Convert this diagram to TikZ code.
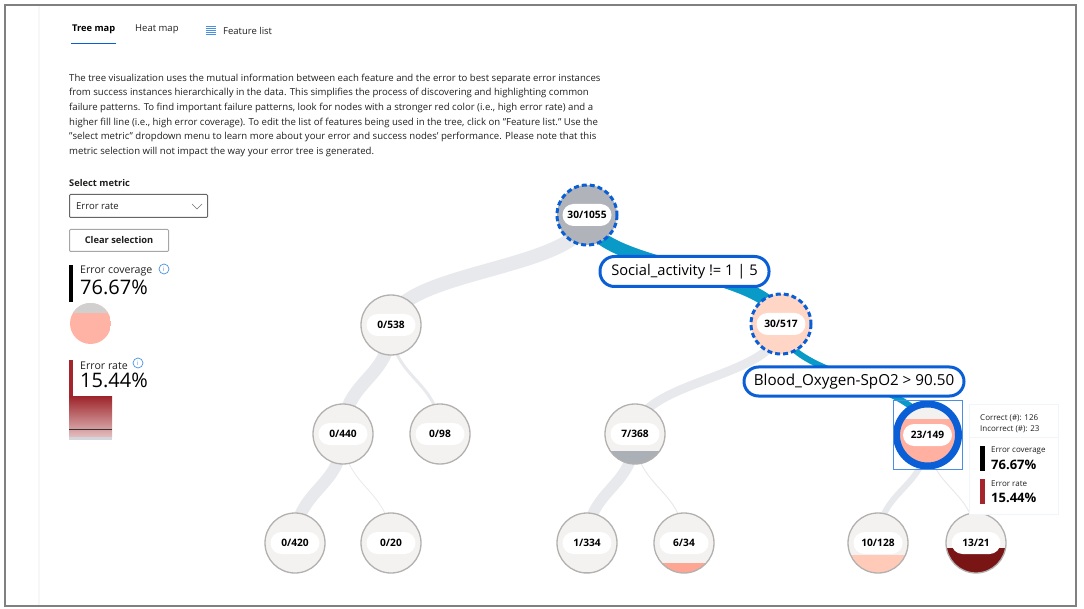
\documentclass[tikz,border=0pt]{standalone}
\usepackage{fontspec}
\setmainfont{Open Sans}
\usetikzlibrary{backgrounds,calc}
\definecolor{selblue}{HTML}{0A5FD6}
\definecolor{linkteal}{HTML}{099AC8}
\definecolor{linkgrey}{HTML}{E8E9ED}
\definecolor{nodebg}{HTML}{F3F2F1}
\definecolor{noderim}{HTML}{B3B1AF}
\definecolor{barred}{HTML}{A4262C}
\definecolor{infoblue}{HTML}{4A90E2}
\definecolor{ink}{HTML}{201F1E}
\definecolor{rootgrey}{HTML}{B0B3B9}
\definecolor{peach}{HTML}{FFD5C6}
\definecolor{fillgrey}{HTML}{ABAFB6}
\definecolor{coral}{HTML}{FFB0A0}
\definecolor{salmon}{HTML}{FFA594}
\definecolor{peachb}{HTML}{FFCBB8}
\definecolor{maroon}{HTML}{7A1515}
\definecolor{tipline}{HTML}{EEF5FB}
\definecolor{pieA}{HTML}{FFB3A5}
\definecolor{pieB}{HTML}{D2D0CE}
\definecolor{rateend}{HTML}{D3D6DC}
\tikzset{
  tnode/.style={circle,minimum size=60pt,inner sep=0pt,draw=noderim,line width=1.3pt,fill=nodebg},
  level/.style 2 args={path picture={\fill[#1] (-40,#2) rectangle (40,40);}},
  pill/.style={rounded corners=11pt,fill=white,minimum width=49pt,minimum height=22pt,inner sep=0pt,font=\fontsize{10.2}{12}\selectfont\bfseries,text=black},
  sel/.style={draw=selblue,line width=3pt,dash pattern=on 5pt off 3pt},
  cond/.style={draw=selblue,line width=3pt,fill=white,rounded corners=14.5pt,inner sep=0pt,font=\fontsize{14.7}{18}\selectfont,text=black},
  greylink/.style={draw=linkgrey},
  teallink/.style={draw=linkteal},
  txt/.style={anchor=west,inner sep=0pt,text=ink,font=\fontsize{9.5}{11}\selectfont},
  semi/.style={txt,font=\fontsize{9.3}{11}\selectfont\bfseries},
  big/.style={anchor=west,inner sep=0pt,text=black,font=\fontsize{20}{22}\selectfont},
  tipbig/.style={anchor=west,inner sep=0pt,text=black,font=\fontsize{13}{14}\selectfont\bfseries},
  tiptxt/.style={anchor=west,inner sep=0pt,text=ink,font=\fontsize{8}{9}\selectfont},
  info/.style={circle,draw=infoblue,line width=.7pt,minimum size=10pt,inner sep=0pt,text=infoblue,font=\fontsize{6}{7}\selectfont},
  uibox/.style={rectangle,inner sep=0pt,fill=white}
}
\newcommand{\linkto}[3]{\draw[#1] (#2.center) .. controls ($(#2.center)+(0,55)$) and ($(#3.center)+(0,-55)$) .. (#3.center);}
\begin{document}
\begin{tikzpicture}[x=1pt,y=-1pt]
\useasboundingbox (0,0) rectangle (1084,609);
\draw[color=black!3,line width=2pt] (39,5) -- (39,606);
\draw[color=black!50,line width=1.4pt] (5,5) rectangle (1076,606);
% tabs
\node[semi,text=black] (tab1) at (72,29.5) {Tree map};
\draw[selblue,line width=1.4pt] (71,43.5) -- (115.5,43.5);
\node[txt] (tab2) at (135,29.5) {Heat map};
\foreach \yy in {26,28,30,32,34} \draw[infoblue,line width=.9pt] (205.5,\yy) -- (216,\yy);
\node[txt] (tab3) at (223,30.5) {Feature list};
% description
\node[anchor=north west,inner sep=0pt,align=left,text=ink,font=\fontsize{9.6}{14.65}\selectfont] (desc) at (69,73.7) {The tree visualization uses the mutual information between each feature and the error to best separate error instances\\
from success instances hierarchically in the data. This simplifies the process of discovering and highlighting common\\
failure patterns. To find important failure patterns, look for nodes with a stronger red color (i.e., high error rate) and a\\
higher fill line (i.e., high error coverage). To edit the list of features being used in the tree, click on "Feature list." Use the\\
"select metric" dropdown menu to learn more about your error and success nodes' performance. Please note that this\\
metric selection will not impact the way your error tree is generated.};
% controls
\node[semi] (selm) at (69,183.5) {Select metric};
\node[uibox,draw=black!60,line width=1pt,rounded corners=1pt,minimum width=138pt,minimum height=23pt,anchor=north west] (drop) at (69,194) {};
\node[txt] (droptxt) at (76,206) {Error rate};
\draw[black!55,line width=.7pt] (192,204) -- (197,209) -- (202,204);
\node[uibox,draw=black!35,line width=1pt,rounded corners=1pt,minimum width=99pt,minimum height=22pt,anchor=north west,font=\fontsize{9.3}{11}\selectfont\bfseries,text=ink] (clear) at (69,229) {Clear selection};
% error coverage panel
\fill[black] (69,265) rectangle (72.5,302);
\node[txt,font=\fontsize{10.6}{12}\selectfont] (ectitle) at (80,271) {Error coverage};
\node[big] (ecval) at (80,287) {76.67\%};
\node[info] (ecinfo) at (164,269) {i};
\begin{scope}
\clip (90.5,323.5) circle (20.5);
\fill[pieA] (70,303) rectangle (111,344);
\fill[pieB] (70,303) rectangle (111,313);
\end{scope}
% error rate panel
\fill[barred] (69,360) rectangle (72.5,396);
\node[txt,font=\fontsize{10.6}{12}\selectfont] (ertitle) at (80,365.5) {Error rate};
\node[big] (erval) at (80,380) {15.44\%};
\node[info] (erinfo) at (138,363) {i};
\shade[top color=barred!95!black,bottom color=barred!30] (69,396) rectangle (112,437);
\fill[rateend] (69,437) rectangle (112,440);
\draw[black!80,line width=1pt] (69,429) -- (112,429);
% tree nodes
\node[tnode,draw=none,fill=rootgrey] (n1) at (587,215) {};
\node[tnode,draw=none,fill=peach] (n2) at (781,324) {};
\node[tnode] (n3) at (391,325) {};
\node[tnode] (n4) at (343,434) {};
\node[tnode] (n5) at (440,434) {};
\node[tnode,level={fillgrey}{17}] (n6) at (635,434) {};
\node[tnode,draw=none,level={coral}{-16}] (n7) at (927.5,435) {};
\node[tnode] (n8) at (295,543) {};
\node[tnode] (n9) at (391,543) {};
\node[tnode,level={fillgrey}{29}] (n10) at (587,543) {};
\node[tnode,level={salmon}{20}] (n11) at (684,543) {};
\node[tnode,level={peachb}{12}] (n12) at (878,543) {};
\node[tnode,level={maroon}{5}] (n13) at (976,543) {};
\begin{pgfonlayer}{background}
\linkto{greylink,line width=14pt}{n1}{n3}
\linkto{teallink,line width=13pt}{n1}{n2}
\linkto{greylink,line width=13pt}{n3}{n4}
\linkto{greylink,line width=3pt}{n3}{n5}
\linkto{greylink,line width=9pt}{n2}{n6}
\linkto{teallink,line width=6pt}{n2}{n7}
\linkto{greylink,line width=12pt}{n4}{n8}
\linkto{greylink,line width=.8pt}{n4}{n9}
\linkto{greylink,line width=11pt}{n6}{n10}
\linkto{greylink,line width=1pt}{n6}{n11}
\linkto{greylink,line width=6pt}{n7}{n12}
\linkto{greylink,line width=1pt}{n7}{n13}
\end{pgfonlayer}
% selection marks
\draw[sel] (n1.center) circle (30);
\draw[sel] (n2.center) circle (30);
\draw[selblue,line width=7pt] (n7.center) circle (31);
\draw[infoblue,line width=.9pt] (893,400.5) rectangle (962,469);
% count pills
\node[pill] at (n1) {30/1055};
\node[pill] at (n2) {30/517};
\node[pill] at (n3) {0/538};
\node[pill] at (n4) {0/440};
\node[pill] at (n5) {0/98};
\node[pill] at (n6) {7/368};
\node[pill] at (n7) {23/149};
\node[pill] at (n8) {0/420};
\node[pill] at (n9) {0/20};
\node[pill] at (n10) {1/334};
\node[pill] at (n11) {6/34};
\node[pill] at (n12) {10/128};
\node[pill] at (n13) {13/21};
% condition labels
\node[cond,minimum width=169pt,minimum height=30pt] (c1) at (684.5,271.5) {Social\_activity != 1 | 5};
\node[cond,minimum width=220pt,minimum height=29pt,font=\fontsize{15.2}{18}\selectfont] (c2) at (854,381.5) {Blood\_Oxygen-SpO2 > 90.50};
% tooltip
\node[uibox,draw=tipline,line width=.7pt,minimum width=89pt,minimum height=110pt,anchor=north west] (tip) at (968.5,404) {};
\draw[tipline,line width=.7pt] (tip.west |- 0,437.5) -- (tip.east |- 0,437.5);
\node[tiptxt] (t1) at (980,418) {Correct (\#): 126};
\node[tiptxt] (t2) at (980,429) {Incorrect (\#): 23};
\fill[black] (980,446) rectangle (984.5,471);
\node[tiptxt] (t3) at (991,451) {Error coverage};
\node[tipbig] (t4) at (991,465) {76.67\%};
\fill[barred] (980,479) rectangle (984.5,504);
\node[tiptxt] (t5) at (991,484) {Error rate};
\node[tipbig] (t6) at (991,497.5) {15.44\%};
\end{tikzpicture}
\end{document}
